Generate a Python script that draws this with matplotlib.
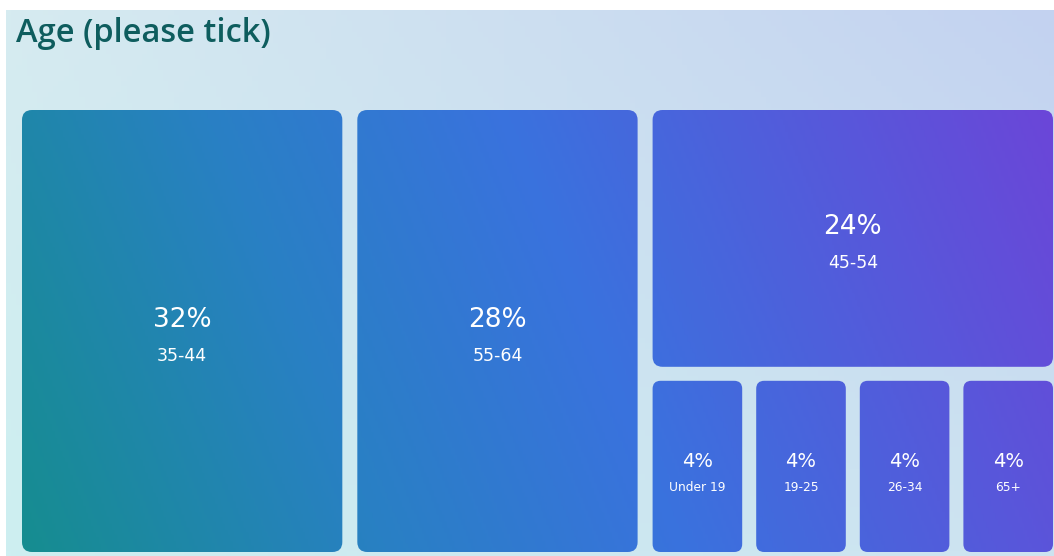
import numpy as np
import matplotlib
matplotlib.use("Agg")
import matplotlib.pyplot as plt
from matplotlib.patches import FancyBboxPatch, Rectangle
from matplotlib.colors import LinearSegmentedColormap, to_rgb

# data
title = "Age (please tick)"
big_labels = ["35-44", "55-64"]
big_values = [32, 28]
top_label = "45-54"
top_value = 24
small_labels = ["Under 19", "19-25", "26-34", "65+"]
small_values = [4, 4, 4, 4]

W, H = 1054, 556
fig = plt.figure(figsize=(W / 100, H / 100), dpi=100)
ax = fig.add_axes([0, 0, 1, 1])
ax.set_xlim(0, W)
ax.set_ylim(H, 0)
ax.axis("off")

# background gradient
bg = Rectangle((6, 10), W - 6, H - 10, facecolor="none", edgecolor="none")
ax.add_patch(bg)
tl, tr = np.array(to_rgb("#d6ebf0")), np.array(to_rgb("#c3d2f0"))
bl, br = np.array(to_rgb("#cdeff1")), np.array(to_rgb("#cde3f0"))
u = np.linspace(0, 1, 200)[None, :, None]
v = np.linspace(0, 1, 100)[:, None, None]
img = (1 - v) * ((1 - u) * tl + u * tr) + v * ((1 - u) * bl + u * br)
im = ax.imshow(img, extent=(6, W, H, 10), aspect="auto", zorder=0)
im.set_clip_path(bg)

ax.text(16, 33, title, fontsize=23.5, fontweight="semibold", color="#0e5d5e",
        family=["Open Sans", "DejaVu Sans"], va="center", ha="left")

# tile gradient
cmap = LinearSegmentedColormap.from_list(
    "tiles", [(0, "#168d90"), (0.3, "#2980c4"), (0.55, "#3a72de"), (1, "#6b46d8")])
x0, x1, y0, y1 = 22, 1053, 110, 552
gap, sgap = 15, 14
gx = np.linspace(x0, x1, 400)
gy = np.linspace(y0, y1, 200)
GX, GY = np.meshgrid(gx, gy)
T = 0.85 * (GX - x0) / (x1 - x0) + 0.15 * (y1 - GY) / (y1 - y0)


def tile(x, y, w, h, r, pct, lab, big):
    p = FancyBboxPatch((x, y), w, h, boxstyle=f"round,pad=0,rounding_size={r}",
                       facecolor="none", edgecolor="none")
    ax.add_patch(p)
    ti = ax.imshow(T, cmap=cmap, vmin=0, vmax=1, extent=(x0, x1, y1, y0),
                   aspect="auto", zorder=1)
    ti.set_clip_path(p)
    cx, cy = x + w / 2, y + h / 2
    if big:
        ax.text(cx, cy - 11, f"{pct}%", fontsize=19, color="white", ha="center", va="center", zorder=3)
        ax.text(cx, cy + 25, lab, fontsize=12.5, color="white", ha="center", va="center", zorder=3)
    else:
        ax.text(cx, cy - 5, f"{pct}%", fontsize=14, color="white", ha="center", va="center", zorder=3)
        ax.text(cx, cy + 21, lab, fontsize=8.8, color="white", ha="center", va="center", zorder=3)


total = sum(big_values) + top_value + sum(small_values)
avail = (x1 - x0) - 2 * gap
cols = big_values + [top_value + sum(small_values)]
x = x0
for i, v in enumerate(cols):
    w = avail * v / total
    if i < len(big_values):
        tile(x, y0, w, y1 - y0, 10, v, big_labels[i], True)
    else:
        hh = (y1 - y0) - sgap
        th = hh * top_value / v
        tile(x, y0, w, th, 10, top_value, top_label, True)
        sy = y0 + th + sgap
        sw_avail = w - sgap * (len(small_values) - 1)
        sx = x
        for lab, sv in zip(small_labels, small_values):
            sw = sw_avail * sv / sum(small_values)
            tile(sx, sy, sw, y1 - sy, 8, sv, lab, False)
            sx += sw + sgap
    x += w + gap

fig.savefig("out.png", dpi=100)
